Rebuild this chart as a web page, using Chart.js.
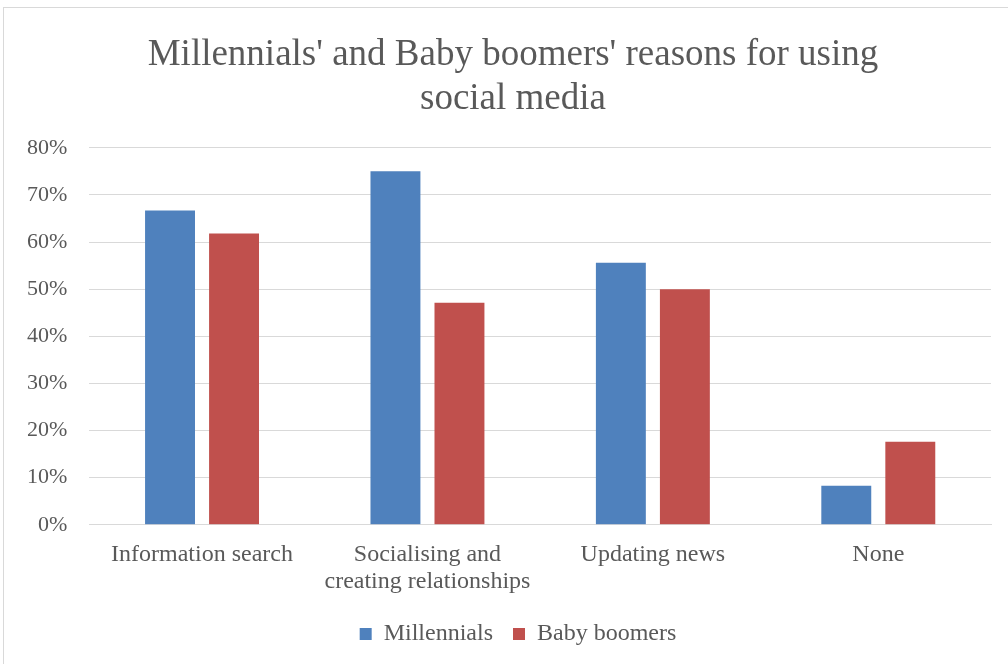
<!DOCTYPE html>
<html>
<head>
<meta charset="utf-8">
<script src="https://cdn.jsdelivr.net/npm/chart.js@4.4.1/dist/chart.umd.min.js"></script>
<style>
  html, body { margin: 0; padding: 0; background: #fff; }
  #frame {
    position: absolute; left: 3px; top: 7px; width: 1020px; height: 680px;
    border: 1px solid #d9d9d9; box-sizing: border-box;
  }
  #wrap { position: absolute; left: 0; top: 0; width: 1008px; height: 664px; }
</style>
</head>
<body>
<div id="frame"></div>
<div id="wrap"><canvas id="chart"></canvas></div>
<script>
// categories and series (percent)
const categories = [
  'Information search',
  ['Socialising and', 'creating relationships'],
  'Updating news',
  'None'
];
const millennials = [66.7, 75.0, 55.6, 8.3];
const babyBoomers = [61.8, 47.1, 50.0, 17.6];
const yTicks = [0, 10, 20, 30, 40, 50, 60, 70, 80];

const SERIF = '"Liberation Serif", "Times New Roman", serif';
const TEXT = '#595959';
const GRID = '#d9d9d9';

// nudge title and legend so they centre over the whole frame, not just the padded box
const blockShift = {
  id: 'blockShift',
  afterLayout(chart) {
    if (chart.titleBlock) chart.titleBlock.left += 30;
    if (chart.legend) chart.legend.left += 40;
  }
};

new Chart(document.getElementById('chart'), {
  type: 'bar',
  data: {
    labels: categories,
    datasets: [
      {
        label: 'Millennials',
        data: millennials,
        backgroundColor: '#4f81bd',
        categoryPercentage: 0.568,
        barPercentage: 0.78
      },
      {
        label: 'Baby boomers',
        data: babyBoomers,
        backgroundColor: '#c0504d',
        categoryPercentage: 0.568,
        barPercentage: 0.78
      }
    ]
  },
  plugins: [blockShift],
  options: {
    responsive: true,
    maintainAspectRatio: false,
    animation: false,
    layout: { padding: { left: 5, right: 17, top: 20, bottom: 8 } },
    plugins: {
      title: {
        display: true,
        text: ["Millennials' and Baby boomers' reasons for using", 'social media'],
        color: TEXT,
        font: { family: SERIF, size: 37, weight: 'normal', lineHeight: 1.2 },
        padding: { top: 13, bottom: 26 }
      },
      legend: {
        position: 'bottom',
        labels: {
          color: TEXT,
          font: { family: SERIF, size: 24 },
          boxWidth: 12,
          boxHeight: 12,
          padding: 20
        }
      },
      tooltip: { enabled: false }
    },
    scales: {
      x: {
        grid: { display: false, drawTicks: false },
        border: { color: GRID },
        afterFit: axis => { axis.height -= 9; },
        ticks: {
          color: TEXT,
          font: { family: SERIF, size: 24, lineHeight: 1.13 },
          padding: 16,
          maxRotation: 0
        }
      },
      y: {
        min: 0,
        max: 80,
        afterBuildTicks: axis => { axis.ticks = yTicks.map(v => ({ value: v })); },
        grid: { color: GRID, drawTicks: false },
        border: { display: false },
        ticks: {
          color: TEXT,
          font: { family: SERIF, size: 22 },
          padding: 22,
          callback: v => v + '%'
        }
      }
    }
  }
});
</script>
</body>
</html>
